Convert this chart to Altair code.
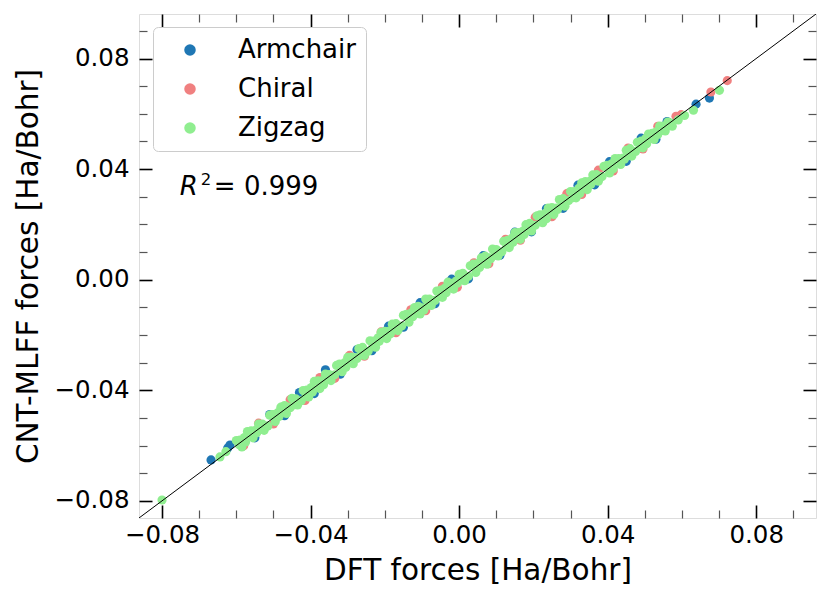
import altair as alt
import pandas as pd

# ---------------- data ----------------
armchair_x = [-0.0668, -0.0623, -0.0617, -0.0593, -0.0550, -0.0510, -0.0470, -0.0430,
              -0.0390, -0.0360, -0.0320, -0.0275, -0.0235, -0.0190, -0.0150, -0.0105,
              -0.0065, -0.0020, 0.0025, 0.0065, 0.0110, 0.0150, 0.0195, 0.0235,
              0.0280, 0.0320, 0.0365, 0.0405, 0.0450, 0.0490, 0.0530, 0.0560,
              0.0638, 0.0674]
armchair_y = [-0.0652, -0.0609, -0.0598, -0.0584, -0.0572, -0.0488, -0.0492, -0.0408,
              -0.0412, -0.0326, -0.0342, -0.0253, -0.0257, -0.0168, -0.0172, -0.0083,
              -0.0087, 0.0002, 0.0003, 0.0087, 0.0088, 0.0172, 0.0173, 0.0257,
              0.0258, 0.0342, 0.0343, 0.0427, 0.0428, 0.0512, 0.0508, 0.0572,
              0.0635, 0.0657]

chiral_x = [-0.0580, -0.0540, -0.0500, -0.0455, -0.0415, -0.0375, -0.0335, -0.0295,
            -0.0255, -0.0210, -0.0170, -0.0130, -0.0090, -0.0045, -0.0005, 0.0040,
            0.0080, 0.0125, 0.0165, 0.0205, 0.0250, 0.0290, 0.0330, 0.0375,
            0.0415, 0.0455, 0.0495, 0.0535, 0.0584, 0.0598, 0.0678, 0.0722]
chiral_y = [-0.0601, -0.0519, -0.0522, -0.0434, -0.0437, -0.0354, -0.0357, -0.0274,
            -0.0277, -0.0189, -0.0192, -0.0109, -0.0112, -0.0024, -0.0027, 0.0061,
            0.0058, 0.0146, 0.0143, 0.0226, 0.0228, 0.0311, 0.0308, 0.0396,
            0.0393, 0.0476, 0.0473, 0.0555, 0.0591, 0.0597, 0.0679, 0.0720]

zigzag_x = [-0.0800, -0.0644, -0.0628,
            -0.0600, -0.0585, -0.0570, -0.0555, -0.0540, -0.0525, -0.0510, -0.0495,
            -0.0480, -0.0465, -0.0450, -0.0435, -0.0420, -0.0405, -0.0390, -0.0375,
            -0.0360, -0.0345, -0.0330, -0.0315, -0.0300, -0.0285, -0.0270, -0.0255,
            -0.0240, -0.0225, -0.0210, -0.0195, -0.0180, -0.0165, -0.0150, -0.0135,
            -0.0120, -0.0105, -0.0090, -0.0075, -0.0060, -0.0045, -0.0030, -0.0015,
            0.0000, 0.0015, 0.0030, 0.0045, 0.0060, 0.0075, 0.0090, 0.0105,
            0.0120, 0.0135, 0.0150, 0.0165, 0.0180, 0.0195, 0.0210, 0.0225,
            0.0240, 0.0255, 0.0270, 0.0285, 0.0300, 0.0315, 0.0330, 0.0345,
            0.0360, 0.0375, 0.0390, 0.0405, 0.0420, 0.0435, 0.0450, 0.0465,
            0.0480, 0.0495, 0.0510, 0.0525, 0.0540, 0.0555, 0.0570, 0.0574,
            -0.0592, -0.0548, -0.0503, -0.0458, -0.0412, -0.0368, -0.0322, -0.0278,
            -0.0232, -0.0188, -0.0142, -0.0098, -0.0052, -0.0008, 0.0038, 0.0082,
            0.0128, 0.0172, 0.0218, 0.0262, 0.0308, 0.0352, 0.0398, 0.0442,
            0.0488, 0.0532, 0.0562,
            -0.0578, -0.0533, -0.0488, -0.0443, -0.0398, -0.0353, -0.0308, -0.0263,
            -0.0218, -0.0173, -0.0128, -0.0083, -0.0038, 0.0007, 0.0052, 0.0097,
            0.0142, 0.0187, 0.0232, 0.0277, 0.0322, 0.0367, 0.0412, 0.0457,
            0.0502, 0.0547,
            -0.0590, -0.0560, -0.0530, -0.0500, -0.0470, -0.0440, -0.0410, -0.0380,
            -0.0350, -0.0320, -0.0290, -0.0260, -0.0230, -0.0200, -0.0170, -0.0140,
            -0.0110, -0.0080, -0.0050, -0.0020, 0.0010, 0.0040, 0.0070, 0.0100,
            0.0130, 0.0160, 0.0190, 0.0220, 0.0250, 0.0280, 0.0310, 0.0340,
            0.0370, 0.0400, 0.0430, 0.0460, 0.0490, 0.0520, 0.0550,
            -0.0575, -0.0545, -0.0515, -0.0485, -0.0455, -0.0425, -0.0395, -0.0365,
            -0.0335, -0.0305, -0.0275, -0.0245, -0.0215, -0.0185, -0.0155, -0.0125,
            -0.0095, -0.0065, -0.0035, -0.0005, 0.0025, 0.0055, 0.0085, 0.0115,
            0.0145, 0.0175, 0.0205, 0.0235, 0.0265, 0.0295, 0.0325, 0.0355,
            0.0385, 0.0415, 0.0445, 0.0475, 0.0505, 0.0535, 0.0565,
            0.0590, 0.0607, 0.0631, 0.0701]
zigzag_y = [-0.0797, -0.0641, -0.0622,
            -0.0582, -0.0605, -0.0549, -0.0572, -0.0522, -0.0545, -0.0490, -0.0513,
            -0.0461, -0.0484, -0.0429, -0.0453, -0.0401, -0.0424, -0.0368, -0.0394,
            -0.0341, -0.0365, -0.0310, -0.0333, -0.0281, -0.0304, -0.0249, -0.0274,
            -0.0221, -0.0244, -0.0190, -0.0213, -0.0161, -0.0184, -0.0129, -0.0154,
            -0.0101, -0.0124, -0.0070, -0.0093, -0.0041, -0.0064, -0.0009, -0.0034,
            0.0019, -0.0004, 0.0050, 0.0026, 0.0079, 0.0056, 0.0111, 0.0086,
            0.0139, 0.0116, 0.0170, 0.0146, 0.0199, 0.0176, 0.0231, 0.0206,
            0.0259, 0.0236, 0.0290, 0.0266, 0.0319, 0.0296, 0.0350, 0.0326,
            0.0379, 0.0356, 0.0410, 0.0386, 0.0438, 0.0417, 0.0468, 0.0447,
            0.0497, 0.0477, 0.0527, 0.0507, 0.0556, 0.0538, 0.0566, 0.0555,
            -0.0597, -0.0545, -0.0488, -0.0461, -0.0420, -0.0365, -0.0305, -0.0282,
            -0.0240, -0.0186, -0.0125, -0.0102, -0.0061, -0.0005, 0.0056, 0.0079,
            0.0119, 0.0176, 0.0235, 0.0259, 0.0297, 0.0356, 0.0414, 0.0440,
            0.0478, 0.0536, 0.0570,
            -0.0571, -0.0541, -0.0481, -0.0452, -0.0390, -0.0361, -0.0300, -0.0271,
            -0.0210, -0.0181, -0.0120, -0.0091, -0.0030, -0.0001, 0.0060, 0.0089,
            0.0150, 0.0179, 0.0240, 0.0269, 0.0330, 0.0359, 0.0420, 0.0449,
            0.0510, 0.0540,
            -0.0580, -0.0547, -0.0522, -0.0488, -0.0455, -0.0431, -0.0399, -0.0366,
            -0.0343, -0.0308, -0.0280, -0.0245, -0.0222, -0.0187, -0.0159, -0.0131,
            -0.0096, -0.0070, -0.0038, -0.0013, 0.0023, 0.0051, 0.0085, 0.0109,
            0.0142, 0.0170, 0.0204, 0.0228, 0.0261, 0.0293, 0.0319, 0.0355,
            0.0380, 0.0412, 0.0438, 0.0474, 0.0501, 0.0529, 0.0556,
            -0.0587, -0.0554, -0.0529, -0.0495, -0.0463, -0.0438, -0.0406, -0.0380,
            -0.0344, -0.0317, -0.0285, -0.0259, -0.0223, -0.0196, -0.0168, -0.0134,
            -0.0110, -0.0075, -0.0047, -0.0013, 0.0012, 0.0044, 0.0076, 0.0101,
            0.0135, 0.0163, 0.0197, 0.0220, 0.0254, 0.0286, 0.0312, 0.0345,
            0.0373, 0.0401, 0.0436, 0.0464, 0.0492, 0.0525, 0.0557,
            0.0578, 0.0594, 0.0613, 0.0685]

series = ["Armchair", "Chiral", "Zigzag"]
colors = ["#1f77b4", "#f08080", "#90ee90"]

axis_limits = [-0.0862, 0.0961]
diag_values = [-0.1, 0.1]
major_ticks = [-0.08, -0.04, 0.0, 0.04, 0.08]
minor_ticks = [-0.07, -0.06, -0.05, -0.03, -0.02, -0.01, 0.01, 0.02, 0.03,
               0.05, 0.06, 0.07, 0.09]

r2_label_pos = {"x": [-0.0752], "y": [0.0306]}

# ---------------- tables ----------------
df = pd.concat([
    pd.DataFrame({"x": armchair_x, "y": armchair_y, "type": series[0]}),
    pd.DataFrame({"x": chiral_x, "y": chiral_y, "type": series[1]}),
    pd.DataFrame({"x": zigzag_x, "y": zigzag_y, "type": series[2]}),
], ignore_index=True)
df["order"] = range(len(df))

diag = pd.DataFrame({"x": diag_values, "y": diag_values})
ann = pd.DataFrame(r2_label_pos)

FONT = "DejaVu Sans"
sc = alt.Scale(domain=axis_limits, nice=False, zero=False)


def major_axis(orient, labels, title=None, label_pad=0):
    kw = dict(orient=orient, values=major_ticks, tickSize=13, offset=-13,
              domain=False, grid=False, tickColor="black", tickWidth=1.6,
              labels=labels)
    if labels:
        kw.update(format=".2f", labelFontSize=24.5, labelFont=FONT,
                  labelColor="black", labelPadding=label_pad,
                  labelFlush=False, labelOverlap=False)
    if title:
        kw.update(title=title, titleFontSize=29.5, titleFont=FONT,
                  titleFontWeight="normal", titleColor="black", titlePadding=10)
    else:
        kw.update(title=None)
    return alt.Axis(**kw)


def minor_axis(orient):
    return alt.Axis(orient=orient, values=minor_ticks, tickSize=8, offset=-8,
                    domain=False, grid=False, tickColor="#555555", tickWidth=1.2,
                    labels=False, title=None)


points = alt.Chart(df).mark_circle(size=84, opacity=1).encode(
    x=alt.X("x:Q", scale=sc, axis=major_axis("bottom", True, "DFT forces [Ha/Bohr]", 5)),
    y=alt.Y("y:Q", scale=sc, axis=major_axis("left", True, "CNT-MLFF forces [Ha/Bohr]", 10)),
    color=alt.Color("type:N",
                    scale=alt.Scale(domain=series, range=colors),
                    legend=alt.Legend(orient="none", legendX=14, legendY=13,
                                      direction="vertical", title=None,
                                      labelFontSize=26, labelFont=FONT,
                                      labelColor="black",
                                      symbolType="circle", symbolSize=133,
                                      symbolStrokeWidth=0, symbolOpacity=1,
                                      padding=10, rowPadding=13,
                                      labelOffset=35, symbolOffset=14,
                                      strokeColor="#cccccc", fillColor="white",
                                      cornerRadius=5)),
    order=alt.Order("order:Q"),
)

line = alt.Chart(diag).mark_line(color="black", strokeWidth=1, clip=True).encode(
    x=alt.X("x:Q", scale=sc, axis=minor_axis("bottom")),
    y=alt.Y("y:Q", scale=sc, axis=minor_axis("left")),
)

r_txt = alt.Chart(ann).mark_text(text="R", font=FONT, fontSize=26, fontStyle="italic",
                                 align="left", baseline="alphabetic", color="black").encode(
    x=alt.X("x:Q", scale=sc, axis=major_axis("top", False)),
    y=alt.Y("y:Q", scale=sc, axis=major_axis("right", False)),
)

sup_txt = alt.Chart(ann).mark_text(text="2", font=FONT, fontSize=16.5, dx=21, dy=-10,
                                   align="left", baseline="alphabetic", color="black").encode(
    x=alt.X("x:Q", scale=sc, axis=minor_axis("top")),
    y=alt.Y("y:Q", scale=sc, axis=minor_axis("right")),
)

val_txt = alt.Chart(ann).mark_text(text="= 0.999", font=FONT, fontSize=26, dx=34,
                                   align="left", baseline="alphabetic", color="black").encode(
    x=alt.X("x:Q", scale=sc, axis=None),
    y=alt.Y("y:Q", scale=sc, axis=None),
)

chart = alt.layer(points, line, r_txt, sup_txt, val_txt).resolve_axis(
    x="independent", y="independent"
).properties(
    width=677, height=504,
    autosize=alt.AutoSizeParams(type="none"),
    padding={"left": 131, "top": 6, "right": 6, "bottom": 72},
).configure_view(
    stroke="black", strokeWidth=1.5
).configure(background="white")

chart.save("out.html", embed_options={"renderer": "svg", "actions": False})
